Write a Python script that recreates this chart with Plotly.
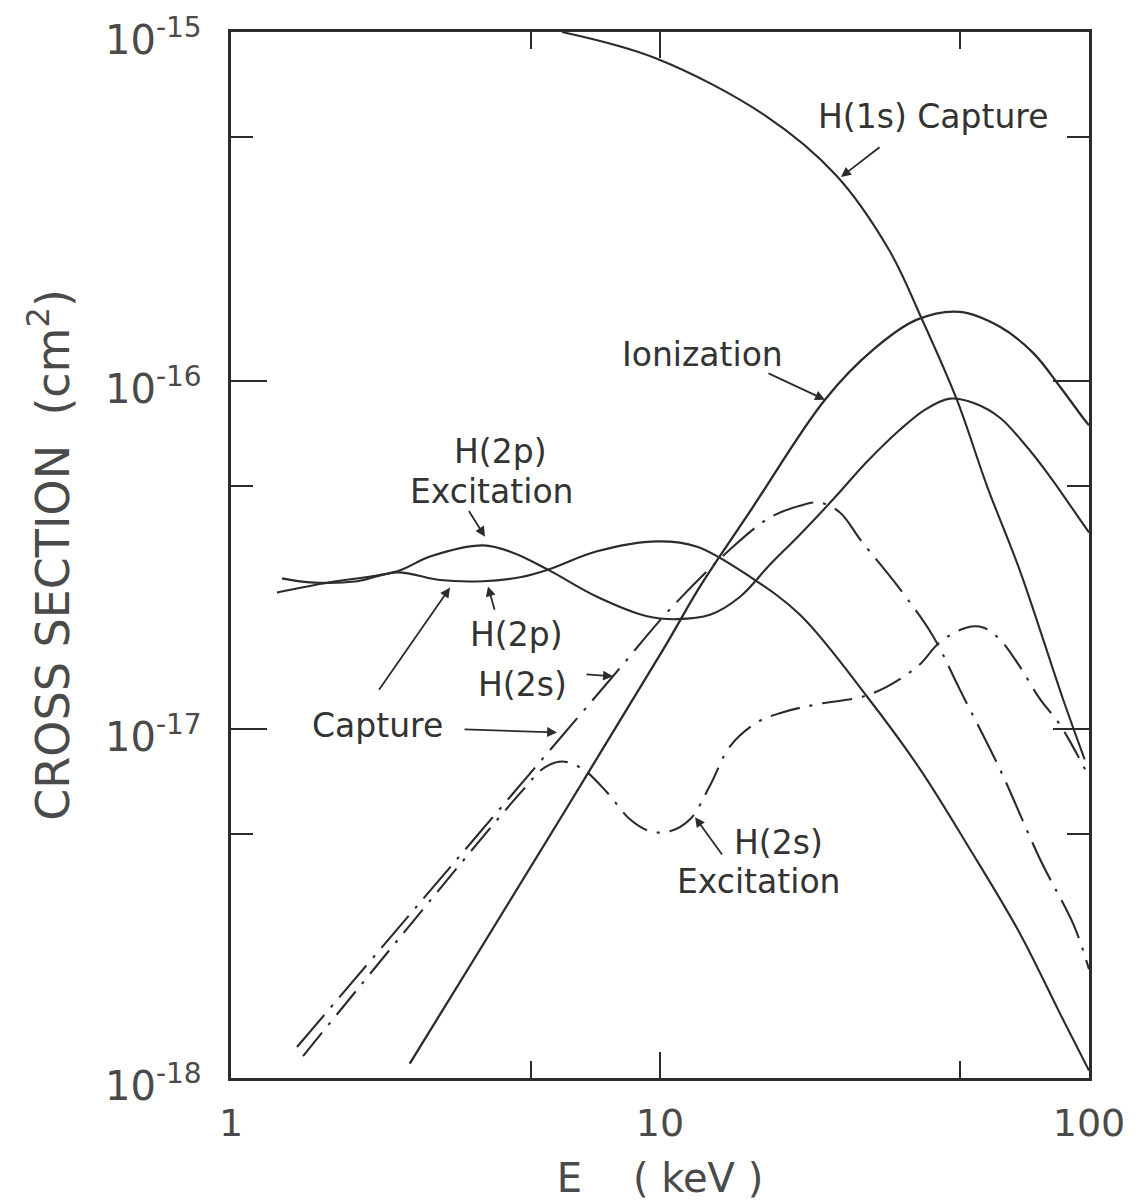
import math
import plotly.graph_objects as go

# ---- cross sections (cm^2) versus proton energy E (keV) ----
h1s_cap_E = [5.91, 9.74, 17.66, 25.7, 34.2, 40.8, 49.2, 57.9, 69.1, 87.0, 97.7]
h1s_cap_S = [1.0e-15, 8.42e-16, 5.74e-16, 3.89e-16, 2.37e-16, 1.50e-16, 8.82e-17,
             4.97e-17, 2.84e-17, 1.22e-17, 8.2e-18]

ion_E = [2.61, 3.71, 10.16, 12.4, 16.2, 24.24, 31.4, 39.7, 50.0, 62.0, 74.0, 85.6, 96.8, 100]
ion_S = [1.10e-18, 2.22e-18, 1.69e-17, 2.57e-17, 4.21e-17, 8.82e-17, 1.227e-16, 1.496e-16,
         1.576e-16, 1.428e-16, 1.203e-16, 9.61e-17, 7.83e-17, 7.45e-17]

exc2p_E = [1.28, 1.70, 2.44, 2.91, 3.87, 4.54, 5.48, 7.13, 9.33, 10.96, 13.08, 15.37, 18.05,
           21.2, 25.3, 30.4, 36.3, 41.5, 47.4, 54.25, 62.0, 70.9, 81.1, 96.3, 100]
exc2p_S = [2.47e-17, 2.64e-17, 2.84e-17, 3.13e-17, 3.37e-17, 3.21e-17, 2.87e-17, 2.40e-17,
           2.11e-17, 2.07e-17, 2.13e-17, 2.40e-17, 2.97e-17, 3.62e-17, 4.56e-17, 5.86e-17,
           7.24e-17, 8.26e-17, 8.88e-17, 8.60e-17, 7.83e-17, 6.56e-17, 5.31e-17, 3.92e-17, 3.67e-17]

cap2p_E = [1.315, 1.53, 1.97, 2.44, 3.07, 3.87, 4.72, 5.48, 7.13, 9.84, 12.2, 16.2, 21.2,
           30.4, 40.4, 52.8, 69.1, 85.6, 100]
cap2p_S = [2.71e-17, 2.64e-17, 2.66e-17, 2.82e-17, 2.68e-17, 2.66e-17, 2.73e-17, 2.87e-17,
           3.24e-17, 3.46e-17, 3.34e-17, 2.74e-17, 2.13e-17, 1.24e-17, 7.68e-18, 4.53e-18,
           2.59e-18, 1.53e-18, 1.05e-18]

cap2s_E = [1.425, 3.24, 7.77, 10.55, 14.56, 18.05, 21.2, 23.6, 26.3, 29.3, 36.3, 43.3, 50.0,
           62.0, 76.9, 92.3, 100]
cap2s_S = [1.227e-18, 4.02e-18, 1.42e-17, 2.21e-17, 3.28e-17, 4.05e-17, 4.38e-17, 4.47e-17,
           4.18e-17, 3.50e-17, 2.52e-17, 1.85e-17, 1.30e-17, 7.68e-18, 4.24e-18, 2.73e-18, 2.05e-18]

exc2s_E = [1.472, 4.72, 5.39, 5.91, 6.62, 7.52, 8.51, 9.48, 10.55, 11.75, 13.08, 14.56, 16.83,
           19.35, 23.23, 30.87, 39.72, 44.95, 51.96, 56.63, 62.0, 69.06, 76.9, 85.6, 97.9]
exc2s_S = [1.156e-18, 6.56e-18, 7.78e-18, 8.09e-18, 7.68e-18, 6.60e-18, 5.52e-18, 5.10e-18,
           5.10e-18, 5.52e-18, 6.9e-18, 8.94e-18, 1.047e-17, 1.12e-17, 1.18e-17, 1.26e-17,
           1.51e-17, 1.78e-17, 1.96e-17, 1.96e-17, 1.81e-17, 1.51e-17, 1.22e-17, 1.03e-17, 7.68e-18]

# ---- axis ticks ----
x_major = [1, 10, 100]
x_major_text = ["1", "10", "100"]
x_minor = [5, 50]
y_major = [1e-18, 1e-17, 1e-16, 1e-15]
y_major_text = ["10<sup>-18</sup>", "10<sup>-17</sup>", "10<sup>-16</sup>", "10<sup>-15</sup>"]
y_minor = [5e-18, 5e-17, 5e-16]

# ---- curve labels: (text, E, sigma) ----
labels = [
    ("H(1s) Capture", 43.3, 5.71e-16),
    ("Ionization", 12.53, 1.187e-16),
    ("H(2p)", 4.24, 6.26e-17),
    ("Excitation", 4.06, 4.81e-17),
    ("H(2p)", 4.64, 1.87e-17),
    ("H(2s)", 4.77, 1.346e-17),
    ("Capture", 2.19, 1.027e-17),
    ("H(2s)", 18.84, 4.75e-18),
    ("Excitation", 17.02, 3.67e-18),
]

# ---- pointer arrows: (tail E, tail sigma, head E, head sigma) ----
pointers = [
    (32.75, 4.71e-16, 26.42, 3.84e-16),
    (17.76, 1.054e-16, 24.24, 8.82e-17),
    (3.567, 4.27e-17, 3.909, 3.57e-17),
    (4.125, 2.18e-17, 3.972, 2.57e-17),
    (2.201, 1.285e-17, 3.24, 2.55e-17),
    (3.474, 1.0e-17, 5.754, 9.80e-18),
    (6.685, 1.438e-17, 7.769, 1.419e-17),
    (14.03, 4.33e-18, 12.07, 5.60e-18),
]

INK = "#2b2b2b"
TXT = "#333333"
AXT = "#4a4a4a"
FONT = "DejaVu Sans"

fig = go.Figure()

def curve(E, S, dash="solid", width=2.1):
    fig.add_trace(go.Scatter(
        x=E, y=S, mode="lines",
        line=dict(color=INK, width=width, dash=dash, shape="spline", smoothing=1.0),
        showlegend=False, hoverinfo="skip"))

curve(h1s_cap_E, h1s_cap_S)
curve(ion_E, ion_S, width=2.3)
curve(exc2p_E, exc2p_S)
curve(cap2p_E, cap2p_S)
curve(cap2s_E, cap2s_S, dash="42px,10px,3px,10px")
curve(exc2s_E, exc2s_S, dash="30px,10px,3px,10px")

annotations = []
for text, e, s in labels:
    annotations.append(dict(
        x=math.log10(e), y=math.log10(s), xref="x", yref="y", text=text,
        showarrow=False, font=dict(family=FONT, size=33, color=TXT)))

for te, ts, he, hs in pointers:
    annotations.append(dict(
        x=math.log10(he), y=math.log10(hs), ax=math.log10(te), ay=math.log10(ts),
        xref="x", yref="y", axref="x", ayref="y", text="",
        showarrow=True, arrowhead=2, arrowsize=1.1, arrowwidth=1.8, arrowcolor=INK,
        standoff=0, startstandoff=0))

# y tick labels, drawn beside the axis at each decade
for v, t in zip(y_major, y_major_text):
    annotations.append(dict(
        x=0, xref="paper", xanchor="right", xshift=-27,
        y=math.log10(v), yref="y", yanchor="middle", yshift=-5,
        text=t, showarrow=False, font=dict(family=FONT, size=40, color=AXT)))

fig.update_layout(
    width=1139, height=1201,
    margin=dict(l=231, r=50, t=32, b=123, autoexpand=False),
    paper_bgcolor="white", plot_bgcolor="white",
    annotations=annotations,
    font=dict(family=FONT, color=AXT),
)

fig.update_xaxes(
    type="log", range=[0, 2], automargin=False,
    showgrid=False, zeroline=False,
    showline=True, linecolor=INK, linewidth=2.5, mirror="ticks",
    ticks="inside", ticklen=26, tickwidth=2, tickcolor=INK,
    tickvals=x_major, ticktext=x_major_text,
    tickfont=dict(family=FONT, size=38, color=AXT),
    ticklabelstandoff=10,
    minor=dict(tickvals=x_minor, ticks="inside", ticklen=17, tickwidth=2, tickcolor=INK),
    title=dict(text="E\u00a0\u00a0\u00a0\u00a0( keV )\u00a0\u00a0",
               font=dict(family=FONT, size=40, color=AXT), standoff=32),
)

fig.update_yaxes(
    type="log", range=[-18, -15], automargin=False,
    showgrid=False, zeroline=False,
    showline=True, linecolor=INK, linewidth=2.5, mirror="ticks",
    ticks="inside", ticklen=36, tickwidth=2, tickcolor=INK,
    tickvals=y_major, showticklabels=False,
    minor=dict(tickvals=y_minor, ticks="inside", ticklen=22, tickwidth=2, tickcolor=INK),
    title=dict(text="CROSS SECTION\u00a0\u00a0(cm<sup>2</sup>)",
               font=dict(family=FONT, size=46, color=AXT), standoff=145),
)

fig.write_html("out.html")
